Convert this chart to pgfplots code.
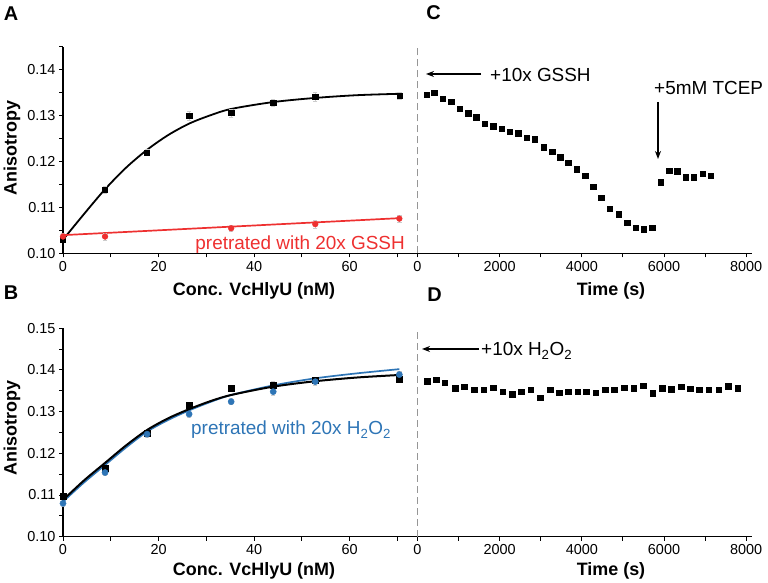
\documentclass[border=0pt]{standalone}
\usepackage{pgfplots}
\pgfplotsset{compat=1.18}
\usepackage{fontspec}
\setmainfont{Liberation Sans}
\usetikzlibrary{arrows.meta}
\definecolor{redc}{RGB}{238,48,48}
\definecolor{bluec}{RGB}{46,117,182}
\definecolor{dashc}{RGB}{150,150,150}

\pgfplotsset{
 common/.style={
  scale only axis,
  axis x line*=bottom, axis y line*=left,
  tick align=outside,
  major tick length=4bp, minor tick length=4bp,
  every tick/.style={black, line width=1bp},
  axis line style={line width=1.3bp, black},
  tick label style={font=\fontsize{14.5}{16}\selectfont},
  /pgf/number format/assume math mode=true,
  /pgf/number format/1000 sep={},
  scaled x ticks=false, scaled y ticks=false,
  clip=false,
 },
 errb/.style={error bars/.cd, y dir=both, y explicit,
  error bar style={gray!40, line width=0.6bp},
  error mark options={rotate=90, gray!40, mark size=2.2bp, line width=0.6bp}},
}

\begin{document}
\begin{tikzpicture}[x=1bp,y=1bp]
\useasboundingbox (0,0) rectangle (768,583);

% ---------------- Panel A ----------------
\begin{axis}[common,
  at={(63bp,329.5bp)}, anchor=south west,
  width=354.5bp, height=206.5bp,
  xmin=0, xmax=74.2, ymin=0.10, ymax=0.145,
  xtick={0,20,40,60}, minor xtick={10,30,50,70},
  ytick={0.10,0.11,0.12,0.13,0.14},
  yticklabels={0.10,0.11,0.12,0.13,0.14},
  minor ytick={0.105,0.115,0.125,0.135,0.145},
]
\addplot[black, line width=1.8bp, smooth, no marks] coordinates {
 (0,0.1030) (4.4,0.1086) (8.8,0.1140) (13.2,0.1187) (17.6,0.1226) (22,0.1258)
 (26.4,0.1283) (30.8,0.1301) (35.2,0.1315) (44,0.1330) (52.8,0.1339)
 (61.6,0.1345) (70.4,0.1348)};
\addplot[redc, line width=1.7bp, no marks] coordinates {(0,0.1040) (70.4,0.1077)};
\addplot[only marks, mark=square*, mark size=2.6bp, black, errb] coordinates {
 (0,0.1031) +- (0,0.0005)
 (8.8,0.1139) +- (0,0.0008)
 (17.6,0.1220) +- (0,0.0007)
 (26.4,0.1300) +- (0,0.0010)
 (35.2,0.1306) +- (0,0.0009)
 (44,0.1328) +- (0,0.0007)
 (52.8,0.1342) +- (0,0.0010)
 (70.4,0.1344) +- (0,0.0007)};
\addplot[only marks, mark=*, mark size=2.9bp, redc, errb] coordinates {
 (0,0.1037) +- (0,0.0006)
 (8.8,0.1037) +- (0,0.0008)
 (35.2,0.1055) +- (0,0.0007)
 (52.8,0.1064) +- (0,0.0009)
 (70.4,0.1076) +- (0,0.0008)};
\end{axis}

% ---------------- Panel C ----------------
\begin{axis}[common,
  at={(417.5bp,329.5bp)}, anchor=south west,
  width=334bp, height=206.5bp,
  xmin=0, xmax=8130, ymin=0.10, ymax=0.145,
  axis y line=none,
  xtick={0,2000,4000,6000,8000}, minor xtick={1000,3000,5000,7000},
]
\draw[dashc, line width=1.2bp, dash pattern=on 7bp off 4bp] (axis cs:0,0.10) -- (axis cs:0,0.145);
\addplot[only marks, mark=square*, mark size=2.7bp, black] coordinates {
 (224,0.1346) (409,0.1351) (620,0.1337) (823,0.1331) (1034,0.1316) (1236,0.1306)
 (1431,0.1297) (1642,0.1283) (1844,0.1277) (2048,0.1272) (2251,0.1266) (2453,0.1262)
 (2657,0.1252) (2859,0.1249) (3078,0.1232) (3280,0.1222) (3474,0.1210) (3669,0.1198)
 (3873,0.1184) (4083,0.1170) (4277,0.1145) (4472,0.1121) (4684,0.1097) (4895,0.1086)
 (5105,0.1067) (5309,0.1056) (5511,0.1053) (5713,0.1056)
 (5925,0.1155) (6127,0.1181) (6321,0.1179) (6525,0.1166) (6727,0.1166) (6939,0.1174)
 (7134,0.1169)};
\end{axis}

% ---------------- Panel B ----------------
\begin{axis}[common,
  at={(63bp,46.3bp)}, anchor=south west,
  width=354.5bp, height=208.4bp,
  xmin=0, xmax=74.2, ymin=0.10, ymax=0.15,
  xtick={0,20,40,60}, minor xtick={10,30,50,70},
  ytick={0.10,0.11,0.12,0.13,0.14,0.15},
  yticklabels={0.10,0.11,0.12,0.13,0.14,0.15},
  minor ytick={0.105,0.115,0.125,0.135,0.145},
]
\addplot[only marks, mark=square*, mark size=3bp, black, errb] coordinates {
 (0,0.1098) +- (0,0.0006)
 (8.8,0.1165) +- (0,0.0008)
 (17.6,0.1248) +- (0,0.0007)
 (26.4,0.1316) +- (0,0.0007)
 (35.2,0.1356) +- (0,0.0007)
 (44,0.1364) +- (0,0.0008)
 (52.8,0.1376) +- (0,0.0007)
 (70.4,0.1378) +- (0,0.0008)};
\addplot[only marks, mark=*, mark size=3.1bp, bluec, errb] coordinates {
 (0,0.1080) +- (0,0.0006)
 (8.8,0.1154) +- (0,0.0007)
 (17.6,0.1246) +- (0,0.0007)
 (26.4,0.1294) +- (0,0.0007)
 (35.2,0.1324) +- (0,0.0007)
 (44,0.1348) +- (0,0.0008)
 (52.8,0.1372) +- (0,0.0008)
 (70.4,0.1389) +- (0,0.0008)};
\addplot[bluec, line width=1.7bp, smooth, no marks] coordinates {
 (0,0.1084) (4.4,0.1130) (8.8,0.1172) (13.2,0.1214) (17.6,0.1252) (22,0.1280)
 (26.4,0.1303) (30.8,0.1323) (35.2,0.1340) (44,0.1363) (52.8,0.1380)
 (61.6,0.1392) (70.4,0.1402)};
\addplot[black, line width=2bp, smooth, no marks] coordinates {
 (0,0.1088) (4.4,0.1135) (8.8,0.1177) (13.2,0.1219) (17.6,0.1256) (22,0.1284)
 (26.4,0.1306) (30.8,0.1325) (35.2,0.1340) (44,0.1360) (52.8,0.1373)
 (61.6,0.1382) (70.4,0.1388)};
\end{axis}

% ---------------- Panel D ----------------
\begin{axis}[common,
  at={(417.5bp,46.3bp)}, anchor=south west,
  width=334bp, height=208.4bp,
  xmin=0, xmax=8130, ymin=0.10, ymax=0.15,
  axis y line=none,
  xtick={0,2000,4000,6000,8000}, minor xtick={1000,3000,5000,7000},
]
\draw[dashc, line width=1.2bp, dash pattern=on 7bp off 4bp] (axis cs:0,0.10) -- (axis cs:0,0.1495);
\addplot[only marks, mark=square*, mark size=2.7bp, black] coordinates {
 (233,0.1373) (457,0.1377) (658,0.1369) (915,0.1356) (1139,0.1360) (1380,0.1352)
 (1605,0.1353) (1846,0.1358) (2078,0.1348) (2303,0.1342) (2520,0.1348) (2761,0.1352)
 (2985,0.1334) (3226,0.1352) (3450,0.1345) (3667,0.1348) (3892,0.1348) (4108,0.1348)
 (4333,0.1345) (4566,0.1352) (4791,0.1352) (5032,0.1358) (5255,0.1356) (5496,0.1362)
 (5729,0.1344) (5954,0.1356) (6179,0.1354) (6420,0.1360) (6636,0.1355) (6861,0.1352)
 (7094,0.1352) (7335,0.1352) (7559,0.1361) (7800,0.1356)};
\end{axis}

% ---------------- Labels ----------------
\def\lab{\fontsize{18}{20}\selectfont\bfseries}
\def\ann{\fontsize{19}{21}\selectfont}
\node[font=\fontsize{20}{22}\selectfont\bfseries] at (11,569.5) {A};
\node[font=\fontsize{20}{22}\selectfont\bfseries] at (11,290) {B};
\node[font=\fontsize{20}{22}\selectfont\bfseries] at (433.5,570.5) {C};
\node[font=\fontsize{20}{22}\selectfont\bfseries] at (434.5,288) {D};

\node[font=\lab, rotate=90] at (12,435) {Anisotropy};
\node[font=\lab, rotate=90] at (12,155) {Anisotropy};
\node[font=\lab] at (254,292) {Conc. VcHlyU (nM)};
\node[font=\lab] at (254,12.5) {Conc. VcHlyU (nM)};
\node[font=\lab] at (611,292) {Time (s)};
\node[font=\lab] at (611,12.5) {Time (s)};

\node[font=\ann, text=redc, anchor=base east, inner sep=0] at (405,333) {pretrated with 20x GSSH};
\node[font=\ann, text=bluec, anchor=base west, inner sep=0] at (191,148) {pretrated with 20x H\textsubscript{2}O\textsubscript{2}};

\draw[-{Stealth[length=8bp,width=6bp]}, line width=1.5bp] (481,509) -- (426,509);
\node[font=\ann, anchor=base west, inner sep=0] at (490,501) {+10x GSSH};
\node[font=\ann, anchor=base west, inner sep=0] at (654,488) {+5mM TCEP};
\draw[-{Stealth[length=8bp,width=6bp]}, line width=1.5bp] (658,481) -- (658,424);
\draw[-{Stealth[length=8bp,width=6bp]}, line width=1.5bp] (479,234) -- (422,234);
\node[font=\ann, anchor=base west, inner sep=0] at (481,227) {+10x H\textsubscript{2}O\textsubscript{2}};
\end{tikzpicture}
\end{document}
